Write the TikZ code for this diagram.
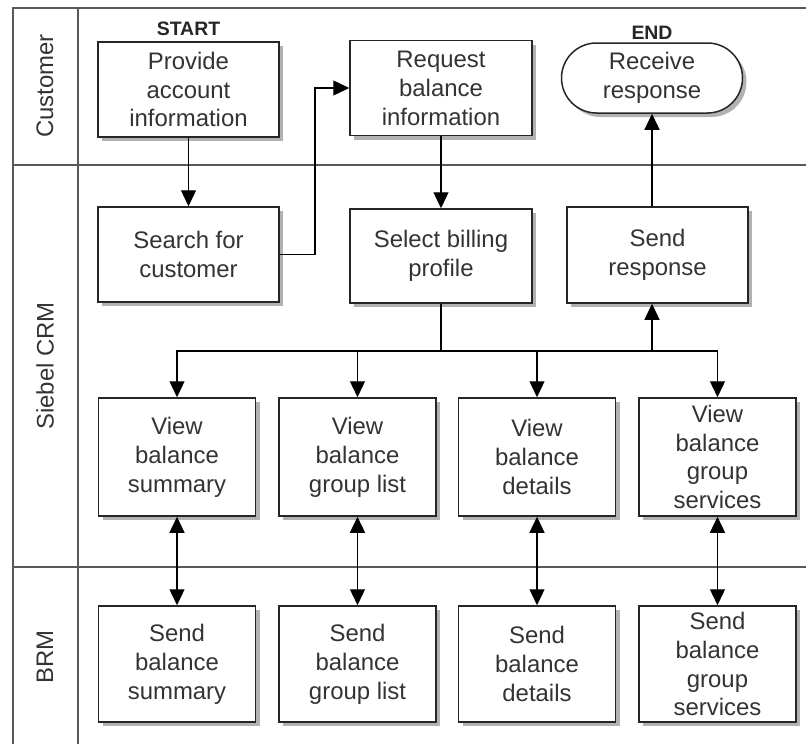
\documentclass[tikz,border=0pt]{standalone}
\usepackage{fontspec}
\setmainfont{Liberation Sans}
\usepackage{tikz}
\usetikzlibrary{arrows.meta,shapes.misc,shadows,positioning}

\begin{document}
\begin{tikzpicture}[
  lane/.style={draw=black!65,line width=1.6bp},
  lanelabel/.style={rotate=90,text=black!80,font=\fontsize{24}{28}\selectfont},
  task/.style={draw=black!85,line width=1.5bp,fill=white,align=center,text=black!80,
    font=\fontsize{24}{29}\selectfont,inner sep=0pt,
    drop shadow={shadow xshift=4bp,shadow yshift=-4bp,fill=black!30,opacity=1}},
  tag/.style={font=\bfseries\fontsize{19.5}{22}\selectfont,text=black!85,inner sep=0pt},
  flow/.style={line width=1.3bp,-{Triangle[length=16bp,width=15bp]}},
  both/.style={line width=1.3bp,{Triangle[length=16bp,width=15bp]}-{Triangle[length=16bp,width=15bp]}}]
\useasboundingbox (0bp,0bp) rectangle (806bp,-744bp);
\draw[lane] (806bp,-8bp) -- (13bp,-8bp) -- (13bp,-744bp);
\draw[lane] (78bp,-8bp) -- (78bp,-744bp);
\draw[lane] (13bp,-165bp) -- (806bp,-165bp);
\draw[lane] (13bp,-567bp) -- (806bp,-567bp);
\node (Lcust) at (45bp,-86bp)[lanelabel] {Customer};
\node (Lcrm) at (45bp,-366bp)[lanelabel] {Siebel CRM};
\node (Lbrm) at (45bp,-657bp)[lanelabel] {BRM};

\node (prov) at (188.5bp,-89.5bp)[task,minimum width=181bp,minimum height=95bp] {Provide\\account\\information};
\node (req) at (441bp,-88bp)[task,minimum width=182bp,minimum height=95bp] {Request\\balance\\information};
\node (recv) at (652bp,-78bp)[task,rounded rectangle,minimum width=181bp,minimum height=70bp] {Receive\\response};
\node (start) [tag,above=5bp of prov] {START};
\node (end) [tag,above=3bp of recv] {END};

\node (search) at (188.5bp,-254.5bp)[task,minimum width=181bp,minimum height=95bp] {Search for\\customer};
\node (select) at (441bp,-256bp)[task,minimum width=182bp,minimum height=94bp] {Select billing\\profile};
\node (sendresp) at (657.5bp,-255bp)[task,minimum width=181bp,minimum height=96bp] {Send\\response};

\node (view1) at (177bp,-457bp)[task,minimum width=157bp,minimum height=118bp] {View\\balance\\summary};
\node (view2) at (357.5bp,-457bp)[task,minimum width=157bp,minimum height=118bp] {View\\balance\\group list};
\node (view3) at (537bp,-457bp)[task,minimum width=157bp,minimum height=118bp] {View\\balance\\details};
\node (view4) at (717.5bp,-457bp)[task,minimum width=157bp,minimum height=118bp] {View\\balance\\group\\services};

\node (send1) at (177bp,-664bp)[task,minimum width=157bp,minimum height=116bp] {Send\\balance\\summary};
\node (send2) at (357.5bp,-664bp)[task,minimum width=157bp,minimum height=116bp] {Send\\balance\\group list};
\node (send3) at (537bp,-664bp)[task,minimum width=157bp,minimum height=116bp] {Send\\balance\\details};
\node (send4) at (717.5bp,-664bp)[task,minimum width=157bp,minimum height=116bp] {Send\\balance\\group\\services};

\coordinate (jog) at (315bp,-88bp);
\coordinate (bus) at (441bp,-351bp);
\coordinate (up) at (652bp,-351bp);

\draw[flow] (prov) -- (search);
\draw[flow] (search.east) -| (jog) -- (req.west);
\draw[flow] (req) -- (select);
\draw[line width=1.3bp] (select.south) -- (bus);
\draw[flow] (bus) -| (view1.north);
\draw[flow] (bus) -| (view2.north);
\draw[flow] (bus) -| (view3.north);
\draw[flow] (bus) -| (view4.north);
\draw[flow] (up) -- (up |- sendresp.south);
\draw[flow] (recv.south |- sendresp.north) -- (recv.south);
\draw[both] (view1) -- (send1);
\draw[both] (view2) -- (send2);
\draw[both] (view3) -- (send3);
\draw[both] (view4) -- (send4);
\end{tikzpicture}
\end{document}
